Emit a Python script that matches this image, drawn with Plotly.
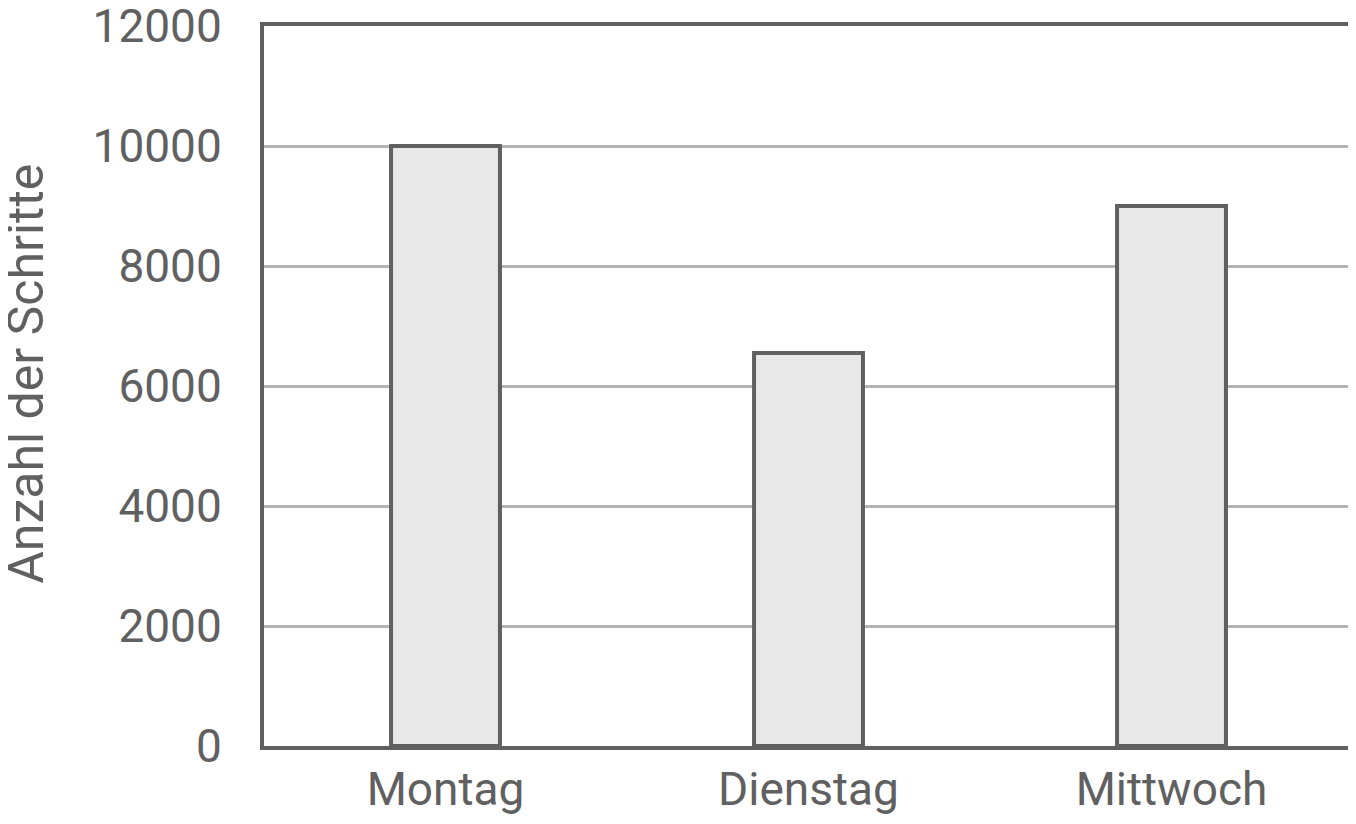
import plotly.graph_objects as go

# Schritte pro Tag
tage = ['Montag', 'Dienstag', 'Mittwoch']
schritte = [10000, 6550, 9000]
y_ticks = [0, 2000, 4000, 6000, 8000, 10000, 12000]
y_tick_text = [str(v) for v in y_ticks]

grey = '#606060'

fig = go.Figure()
fig.add_trace(go.Bar(x=tage, y=schritte,
                     marker=dict(color='#e8e8e8', line=dict(color=grey, width=4)),
                     width=0.3))

# page body has an 8px margin, so the figure is a bit smaller than the window
fig.update_layout(width=1348, height=808,
                  margin=dict(l=256, r=3, t=18, b=70),
                  plot_bgcolor='white', paper_bgcolor='white',
                  font=dict(family='Roboto', size=46, color=grey),
                  showlegend=False)

fig.update_xaxes(showline=True, linecolor=grey, linewidth=4, mirror=True,
                 ticks='', tickfont=dict(size=46), automargin=False)
fig.update_yaxes(range=[0, 12000], tickvals=y_ticks, ticktext=y_tick_text,
                 showline=True, linecolor=grey, linewidth=4, mirror=True,
                 showgrid=True, gridcolor='#b4b4b4', gridwidth=3,
                 zeroline=False, automargin=False, ticklabeloverflow='allow',
                 ticks='outside', ticklen=29, tickcolor='rgba(0,0,0,0)',
                 tickfont=dict(size=46))

# y-axis title as a rotated annotation
fig.add_annotation(text='Anzahl der Schritte', textangle=-90,
                   xref='paper', yref='paper', x=-0.2185, y=0.517,
                   xanchor='center', yanchor='middle', showarrow=False,
                   font=dict(size=50, color=grey))

fig.write_html('out.html')
